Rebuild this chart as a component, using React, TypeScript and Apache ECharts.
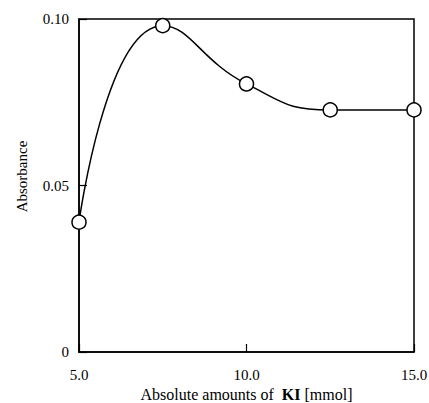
import React, { useEffect, useRef } from "react";
import * as echarts from "echarts";

const kiAmounts = [5.0, 7.5, 10.0, 12.5, 15.0];
const absorbance = [0.039, 0.098, 0.0805, 0.0727, 0.0727];
const xTicks = [5, 10, 15];
const yTicks = [0, 0.05, 0.1];

export default function App() {
  const ref = useRef<HTMLDivElement>(null);
  useEffect(() => {
    if (!ref.current) return;
    const chart = echarts.init(ref.current, undefined, { renderer: "svg" });
    const font = "'Liberation Serif', 'Times New Roman', serif";
    chart.setOption({
      animation: false,
      backgroundColor: "#fff",
      textStyle: { fontFamily: font, color: "#000" },
      grid: {
        left: 79,
        right: 15,
        top: 19,
        bottom: 51,
        containLabel: false,
        outerBoundsMode: "none",
        show: true,
        borderColor: "#000",
        borderWidth: 1.5,
        backgroundColor: "transparent",
      },
      xAxis: {
        type: "value",
        min: xTicks[0],
        max: xTicks[xTicks.length - 1],
        interval: 5,
        name: "{a|Absolute amounts of  }{b|KI}{a| [mmol]}",
        nameLocation: "middle",
        nameGap: 33,
        nameTextStyle: {
          rich: {
            a: { fontFamily: font, fontSize: 16, color: "#000" },
            b: { fontFamily: font, fontSize: 16, color: "#000", fontWeight: "bold" },
          },
        },
        axisLine: { show: true, lineStyle: { color: "#000", width: 1.5 } },
        axisTick: { show: true, inside: true, length: 8, lineStyle: { color: "#000", width: 1.2 } },
        axisLabel: {
          margin: 15,
          fontFamily: font,
          fontSize: 15,
          color: "#000",
          formatter: (v: number) => v.toFixed(1),
        },
        splitLine: { show: false },
      },
      yAxis: {
        type: "value",
        min: yTicks[0],
        max: yTicks[yTicks.length - 1],
        interval: 0.05,
        name: "Absorbance",
        nameLocation: "middle",
        nameGap: 50,
        nameTextStyle: { fontFamily: font, fontSize: 15, color: "#000", padding: [0, 0, 0, 18] },
        axisLine: { show: true, lineStyle: { color: "#000", width: 1.5 } },
        axisTick: { show: true, inside: true, length: 8, lineStyle: { color: "#000", width: 1.2 } },
        axisLabel: {
          margin: 10,
          fontFamily: font,
          fontSize: 15,
          color: "#000",
          formatter: (v: number) => (v === 0 ? "0" : v.toFixed(2)),
        },
        splitLine: { show: false },
      },
      series: [
        {
          type: "line",
          data: kiAmounts.map((x, i) => [x, absorbance[i]]),
          smooth: 0.5,
          symbol: "circle",
          symbolSize: 14,
          showAllSymbol: true,
          clip: false,
          lineStyle: { color: "#000", width: 1.5 },
          itemStyle: { color: "#fff", borderColor: "#000", borderWidth: 1.5 },
          z: 5,
        },
      ],
    });
    return () => chart.dispose();
  }, []);
  return <div ref={ref} style={{ width: 429, height: 403, position: "absolute", left: 0, top: 0 }} />;
}
